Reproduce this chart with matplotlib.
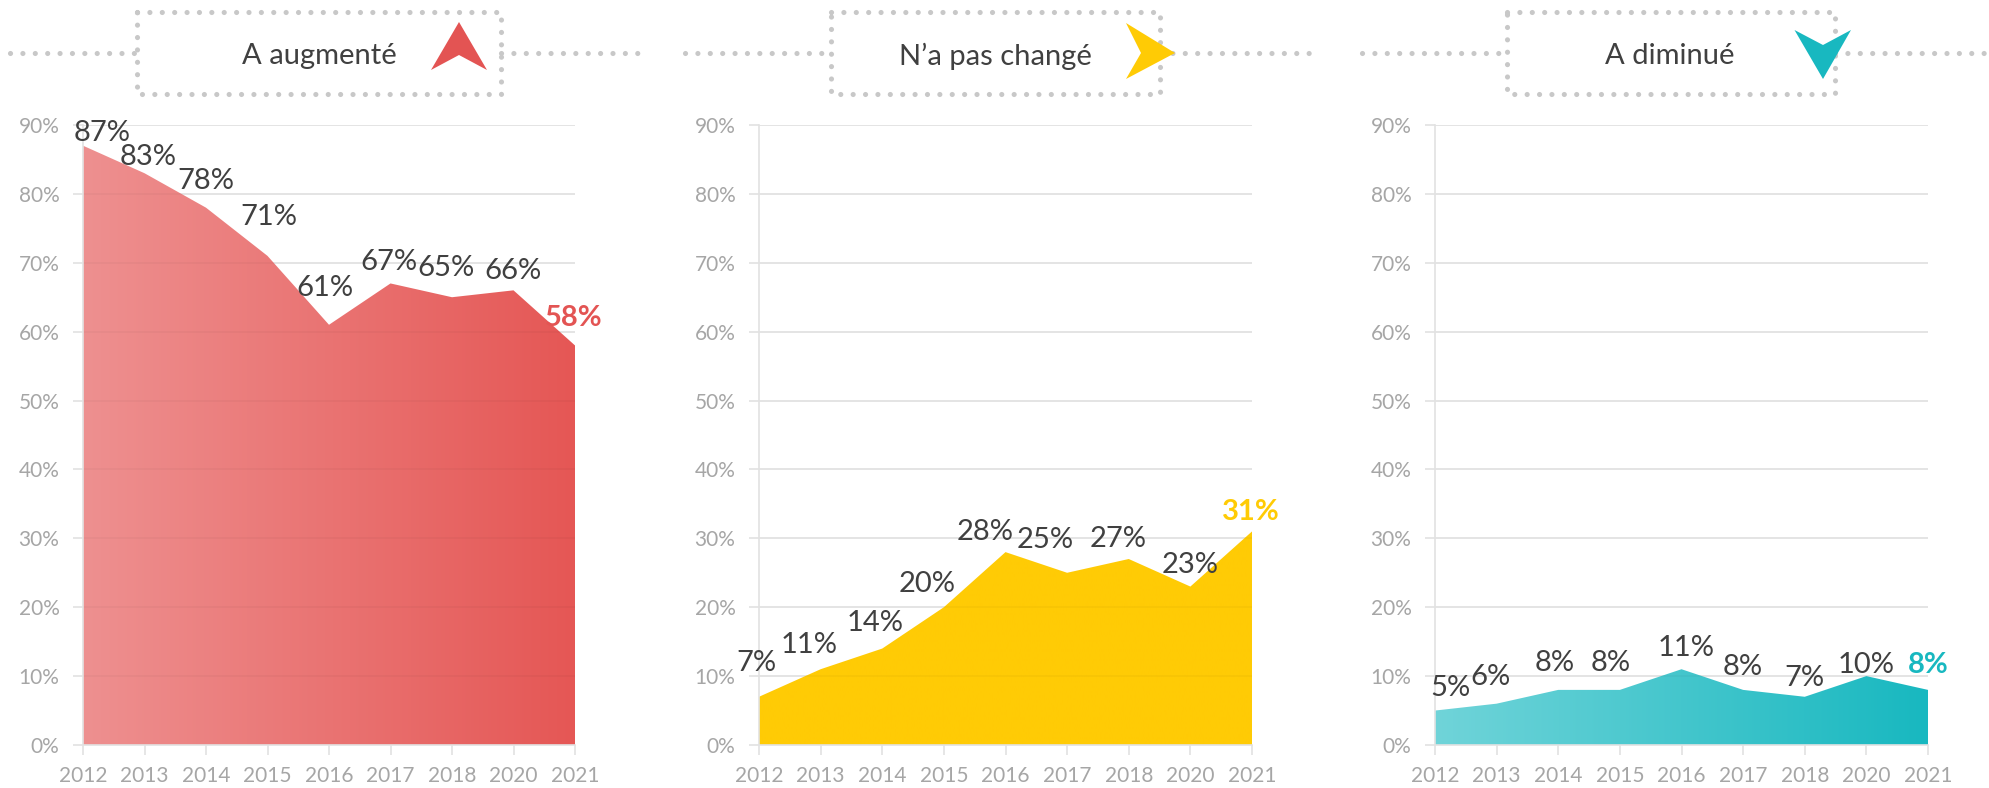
import numpy as np
import matplotlib
matplotlib.use("Agg")
import matplotlib.pyplot as plt
from matplotlib.colors import LinearSegmentedColormap
from matplotlib.patches import Polygon

plt.rcParams['font.family'] = ['Lato', 'DejaVu Sans']

years = ['2012', '2013', '2014', '2015', '2016', '2017', '2018', '2020', '2021']
titles = ['A augmenté', 'N’a pas changé', 'A diminué']
increased = [87, 83, 78, 71, 61, 67, 65, 66, 58]
unchanged = [7, 11, 14, 20, 28, 25, 27, 23, 31]
decreased = [5, 6, 8, 8, 11, 8, 7, 10, 8]
series = [increased, unchanged, decreased]
y_ticks = [0, 10, 20, 30, 40, 50, 60, 70, 80, 90]

W, H = 1989, 788
DARK, TICK, GRID, DOT = '#404040', '#A6A6A6', '#E2E2E2', '#C8C8C8'
S = 1568 / 1989

# layout, pixels
panels = [(83, 575), (759, 1252), (1435, 1928)]
top, bottom = 125, 745
boxes = [(137, 501), (831, 1160), (1507, 1835)]
lines = [(10, 639), (685, 1312), (1362, 1988)]
title_x = [319, 995, 1670]
accent = ['#E35453', '#FFCB05', '#18B8C0']
grad = [('#EE9090', '#E55755'), ('#FFCB05', '#FFCB05'), ('#70D4D9', '#18B8C0')]
arrows = [[(459, 22), (487, 70), (459, 55), (431, 70)],
          [(1175, 53), (1126, 79), (1141, 53), (1126, 23)],
          [(1823, 79), (1851, 30), (1823, 45), (1794.5, 30)]]
# label offsets from their point, in reference-preview pixels
offsets = [
    [(15, -10), (3, -13), (0, -21), (1, -31), (-3, -29), (-1, -17), (-5, -23), (0, -15), (-1, -22)],
    [(-2, -27), (-9, -19), (-6, -20), (-13, -18), (-16, -16), (-17, -26), (-8, -16), (0, -17), (-1, -15)],
    [(12, -18), (-5, -21), (-3, -21), (-7, -21), (4, -17), (0, -18), (0, -15), (0, -9), (0, -20)],
]

fig = plt.figure(figsize=(W / 100, H / 100), dpi=100, facecolor='white')

for k, vals in enumerate(series):
    x0, x1 = panels[k]
    ax = fig.add_axes([x0 / W, 1 - bottom / H, (x1 - x0) / W, (bottom - top) / H])
    xs = np.arange(len(years))
    poly = ax.fill_between(xs, 0, vals, color='none', lw=0, zorder=1)
    clip = poly.get_paths()[0]
    cmap = LinearSegmentedColormap.from_list('g', grad[k])
    im = ax.imshow(np.linspace(0, 1, 256).reshape(1, -1), extent=(0, len(years) - 1, 0, 90),
                   aspect='auto', cmap=cmap, zorder=1, interpolation='bilinear')
    im.set_clip_path(clip, transform=ax.transData)
    ax.set_xlim(0, len(years) - 1)
    ax.set_ylim(0, 90)
    ax.set_xticks(xs, years)
    ax.set_yticks(y_ticks, [f'{t}%' for t in y_ticks])
    for t in y_ticks[1:]:
        # solid above the area, barely visible through it
        ax.axhline(t, color=GRID, lw=1.3, zorder=0.5)
        ln, = ax.plot([0, len(years) - 1], [t, t], color='#000000', alpha=0.03, lw=1.3, zorder=2)
        ln.set_clip_path(clip, transform=ax.transData)
    ax.tick_params(axis='x', colors=GRID, length=7, width=1.2, labelsize=15, labelcolor=TICK, pad=8)
    ax.tick_params(axis='y', colors=GRID, length=7, width=1.2, labelsize=15, labelcolor=TICK, pad=10)
    for s in ('top', 'right'):
        ax.spines[s].set_visible(False)
    for s in ('left', 'bottom'):
        ax.spines[s].set_color(GRID)
        ax.spines[s].set_linewidth(1.2)
    for i, v in enumerate(vals):
        last = i == len(vals) - 1
        dx, dy = offsets[k][i]
        ax.annotate(f'{v}%', (i, v), xytext=(dx / S * 0.72, -dy / S * 0.72), textcoords='offset points',
                    ha='center', va='center', fontsize=21, annotation_clip=False,
                    color=accent[k] if last else DARK, fontweight='bold' if last else 'normal', zorder=5)

ov = fig.add_axes([0, 0, 1, 1], zorder=10)
ov.set_xlim(0, W)
ov.set_ylim(H, 0)
ov.axis('off')
ov.patch.set_alpha(0)
dots = dict(color=DOT, lw=3.7, linestyle=(0, (0.01, 2.4)), dash_capstyle='round')
for k in range(3):
    bx0, bx1 = boxes[k]
    lx0, lx1 = lines[k]
    ov.plot([lx0, bx0], [53, 53], **dots)
    ov.plot([bx1, lx1], [53, 53], **dots)
    ov.plot([bx0, bx1, bx1, bx0, bx0], [12, 12, 94, 94, 12], **dots)
    ov.text(title_x[k], 56, titles[k], ha='center', va='center', fontsize=21, color=DARK)
    ov.add_patch(Polygon(arrows[k], closed=True, fc=accent[k], ec='none', zorder=5))

fig.savefig('out.png', dpi=100)
